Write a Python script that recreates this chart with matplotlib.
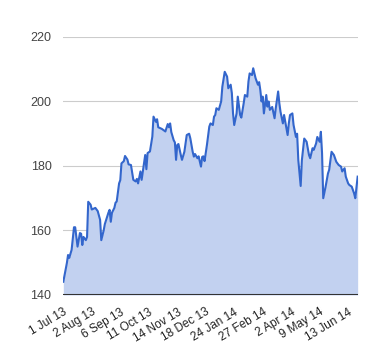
import matplotlib
matplotlib.use("Agg")
import matplotlib.pyplot as plt

# trading-day index (0 = 1 Jul 13) and closing price
day = [0, 3, 4, 5, 7, 9, 10, 12, 14, 15, 16, 17, 19, 20, 21, 23, 24, 27, 29, 31,
       32, 34, 35, 38, 39, 40, 41, 43, 44, 45, 47, 48, 49, 51, 52, 54, 55, 57, 59, 61,
       62, 63, 65, 66, 68, 69, 70, 71, 73, 75, 76, 78, 79, 80, 83, 86, 88, 89, 90, 91,
       93, 94, 95, 96, 97, 99, 100, 102, 104, 106, 107, 109, 110, 111, 113, 114, 116, 117, 118, 119,
       121, 123, 124, 126, 127, 128, 129, 131, 133, 134, 136, 138, 139, 141, 142, 143, 144, 146, 147, 149,
       150, 152, 153, 155, 156, 157, 159, 160, 161, 162, 164, 165, 166, 167, 168, 169, 171, 172, 173, 174,
       176, 178, 179, 181, 182, 183, 185, 186, 187, 189, 190, 191, 193, 194, 196, 197, 198, 200, 201, 203,
       205, 207, 208, 210, 211, 213, 214, 216, 217, 218, 219, 221, 223, 224, 226, 228, 230, 232, 234, 235,
       237, 238, 240, 241, 243, 245, 246, 248]
price = [144.1, 149.9, 152.4, 151.5, 154.0, 161.0, 161.0, 155.0, 159.2, 159.0, 155.5, 158.0, 157.0, 158.0, 168.9, 168.0, 166.5, 167.0, 166.0, 163.3,
         157.0, 160.0, 162.0, 165.5, 166.4, 162.7, 165.5, 167.0, 168.6, 169.0, 174.6, 175.6, 180.8, 181.5, 183.1, 182.0, 180.5, 180.3, 175.7, 175.2,
         176.0, 174.6, 178.3, 175.7, 180.8, 183.4, 179.0, 184.0, 184.5, 189.1, 195.3, 193.7, 194.5, 192.0, 191.5, 190.7, 193.0, 192.0, 193.2, 190.5,
         188.0, 187.3, 181.9, 186.5, 186.8, 183.4, 181.9, 184.4, 189.6, 190.0, 188.6, 184.4, 182.9, 183.7, 182.4, 183.0, 179.8, 182.8, 183.0, 181.5,
         186.5, 192.2, 193.2, 192.7, 195.3, 195.8, 197.9, 197.4, 200.0, 204.6, 209.2, 207.7, 204.1, 205.2, 202.6, 196.3, 192.7, 196.3, 201.5, 195.8,
         195.0, 199.5, 202.0, 201.5, 206.2, 208.7, 208.2, 210.3, 208.7, 207.2, 205.2, 206.0, 203.5, 200.0, 201.5, 196.3, 202.0, 198.4, 200.0, 197.4,
         198.3, 194.8, 197.9, 203.1, 199.5, 196.8, 193.2, 195.8, 193.7, 189.6, 193.2, 195.8, 196.3, 192.7, 189.0, 190.0, 181.8, 173.8, 181.8, 188.5,
         187.5, 183.4, 182.4, 185.5, 185.0, 187.0, 189.0, 187.5, 190.6, 184.0, 170.0, 173.6, 177.7, 178.8, 184.4, 183.4, 181.3, 180.3, 179.8, 178.3,
         179.3, 176.7, 174.6, 174.1, 173.6, 171.5, 170.0, 176.7]

tick_pos = [0, 24, 48, 72, 96, 120, 144, 168, 192, 216, 240]
tick_labels = ["1 Jul 13", "2 Aug 13", "6 Sep 13", "11 Oct 13", "14 Nov 13", "18 Dec 13",
               "24 Jan 14", "27 Feb 14", "2 Apr 14", "9 May 14", "13 Jun 14"]
y_ticks = [140, 160, 180, 200, 220]

plt.rcParams['font.family'] = ['Liberation Sans', 'DejaVu Sans']

fig = plt.figure(figsize=(3.8, 3.6), dpi=100)
ax = fig.add_axes([0.1666, 0.1806, 0.7746, 0.7167])

ax.fill_between(day, price, 140, color='#c2d1f0', linewidth=0, zorder=2)
ax.plot(day, price, color='#3366cc', linewidth=1.5, zorder=3)

ax.set_xlim(0, 248)
ax.set_ylim(140, 220)
ax.set_yticks(y_ticks)
ax.set_yticklabels([str(v) for v in y_ticks], fontsize=9, color='#444444')
ax.grid(axis='y', color='#cccccc', linewidth=0.8, zorder=1)
ax.axhline(140, color='#333333', linewidth=1.5, zorder=4)

ax.set_xticks(tick_pos)
ax.set_xticklabels(tick_labels, fontsize=8.5, color='#222222', rotation=31,
                   ha='right', va='top', rotation_mode='anchor')
ax.tick_params(axis='both', length=0)
ax.tick_params(axis='y', pad=8.5)
ax.tick_params(axis='x', pad=8)

for s in ax.spines.values():
    s.set_visible(False)

fig.savefig("out.png", dpi=100)
